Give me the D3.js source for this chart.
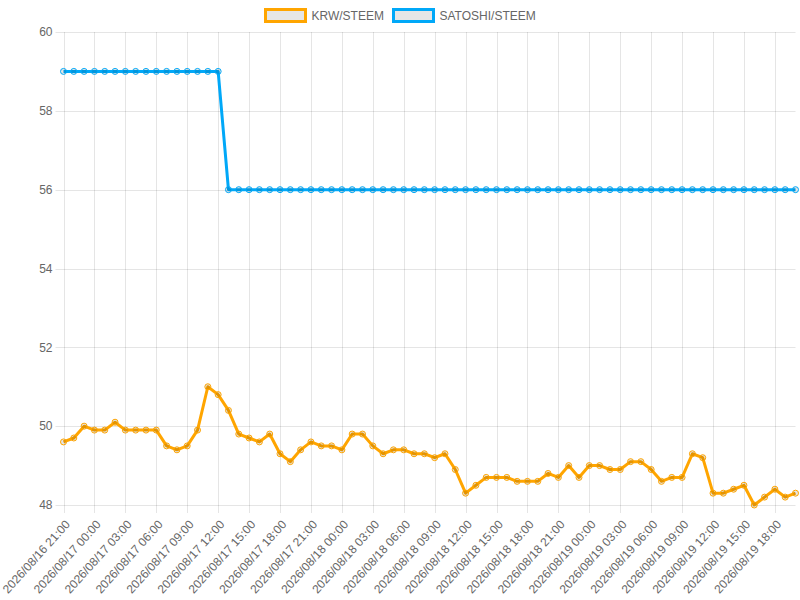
<!DOCTYPE html>
<html>
<head>
<meta charset="utf-8">
<script src="https://cdn.jsdelivr.net/npm/d3@7"></script>
<style>
  body { margin: 0; background: #fff; }
  text { font-family: "Liberation Sans", Arial, sans-serif; }
</style>
</head>
<body>
<svg id="chart"></svg>
<script>
var width = 800;
var height = 600;

// hourly timestamps, 2026/08/16 21:00 .. 2026/08/19 20:00
var times = [
  "2026/08/16 21:00", "2026/08/16 22:00", "2026/08/16 23:00",
  "2026/08/17 00:00", "2026/08/17 01:00", "2026/08/17 02:00", "2026/08/17 03:00", "2026/08/17 04:00", "2026/08/17 05:00",
  "2026/08/17 06:00", "2026/08/17 07:00", "2026/08/17 08:00", "2026/08/17 09:00", "2026/08/17 10:00", "2026/08/17 11:00",
  "2026/08/17 12:00", "2026/08/17 13:00", "2026/08/17 14:00", "2026/08/17 15:00", "2026/08/17 16:00", "2026/08/17 17:00",
  "2026/08/17 18:00", "2026/08/17 19:00", "2026/08/17 20:00", "2026/08/17 21:00", "2026/08/17 22:00", "2026/08/17 23:00",
  "2026/08/18 00:00", "2026/08/18 01:00", "2026/08/18 02:00", "2026/08/18 03:00", "2026/08/18 04:00", "2026/08/18 05:00",
  "2026/08/18 06:00", "2026/08/18 07:00", "2026/08/18 08:00", "2026/08/18 09:00", "2026/08/18 10:00", "2026/08/18 11:00",
  "2026/08/18 12:00", "2026/08/18 13:00", "2026/08/18 14:00", "2026/08/18 15:00", "2026/08/18 16:00", "2026/08/18 17:00",
  "2026/08/18 18:00", "2026/08/18 19:00", "2026/08/18 20:00", "2026/08/18 21:00", "2026/08/18 22:00", "2026/08/18 23:00",
  "2026/08/19 00:00", "2026/08/19 01:00", "2026/08/19 02:00", "2026/08/19 03:00", "2026/08/19 04:00", "2026/08/19 05:00",
  "2026/08/19 06:00", "2026/08/19 07:00", "2026/08/19 08:00", "2026/08/19 09:00", "2026/08/19 10:00", "2026/08/19 11:00",
  "2026/08/19 12:00", "2026/08/19 13:00", "2026/08/19 14:00", "2026/08/19 15:00", "2026/08/19 16:00", "2026/08/19 17:00",
  "2026/08/19 18:00", "2026/08/19 19:00", "2026/08/19 20:00"
];

var krw = [
  49.6, 49.7, 50.0,
  49.9, 49.9, 50.1, 49.9, 49.9, 49.9,
  49.9, 49.5, 49.4, 49.5, 49.9, 51.0,
  50.8, 50.4, 49.8, 49.7, 49.6, 49.8,
  49.3, 49.1, 49.4, 49.6, 49.5, 49.5,
  49.4, 49.8, 49.8, 49.5, 49.3, 49.4,
  49.4, 49.3, 49.3, 49.2, 49.3, 48.9,
  48.3, 48.5, 48.7, 48.7, 48.7, 48.6,
  48.6, 48.6, 48.8, 48.7, 49.0, 48.7,
  49.0, 49.0, 48.9, 48.9, 49.1, 49.1,
  48.9, 48.6, 48.7, 48.7, 49.3, 49.2,
  48.3, 48.3, 48.4, 48.5, 48.0, 48.2,
  48.4, 48.2, 48.3
];

var satoshi = [
  59, 59, 59,
  59, 59, 59, 59, 59, 59,
  59, 59, 59, 59, 59, 59,
  59, 56, 56, 56, 56, 56,
  56, 56, 56, 56, 56, 56,
  56, 56, 56, 56, 56, 56,
  56, 56, 56, 56, 56, 56,
  56, 56, 56, 56, 56, 56,
  56, 56, 56, 56, 56, 56,
  56, 56, 56, 56, 56, 56,
  56, 56, 56, 56, 56, 56,
  56, 56, 56, 56, 56, 56,
  56, 56, 56
];

var seriesNames = ["KRW/STEEM", "SATOSHI/STEEM"];
var seriesColors = ["#ffa500", "#00a8f8"];
var yTicks = [48, 50, 52, 54, 56, 58, 60];

var plotLeft = 63.5, plotRight = 795.5, plotTop = 32, plotBottom = 505;

var svg = d3.select("#chart")
    .attr("width", width)
    .attr("height", height);

var xScale = d3.scalePoint()
    .domain(times)
    .range([plotLeft, plotRight]);

var yScale = d3.scaleLinear()
    .domain([48, 60])
    .range([plotBottom, plotTop]);

var labelTimes = times.filter(function(d, i) { return i % 3 === 0; });

// grid
svg.append("g")
  .selectAll("line")
  .data(labelTimes)
  .enter()
  .append("line")
  .attr("x1", function(d) { return Math.round(xScale(d)) + 0.5; })
  .attr("x2", function(d) { return Math.round(xScale(d)) + 0.5; })
  .attr("y1", plotTop)
  .attr("y2", plotBottom + 8)
  .attr("stroke", "rgba(0,0,0,0.1)");

svg.append("g")
  .selectAll("line")
  .data(yTicks)
  .enter()
  .append("line")
  .attr("x1", plotLeft - 8)
  .attr("x2", plotRight)
  .attr("y1", function(d) { return Math.round(yScale(d)) + 0.5; })
  .attr("y2", function(d) { return Math.round(yScale(d)) + 0.5; })
  .attr("stroke", "rgba(0,0,0,0.1)");

// axis labels
svg.append("g")
  .selectAll("text")
  .data(yTicks)
  .enter()
  .append("text")
  .attr("x", plotLeft - 11)
  .attr("y", function(d) { return yScale(d); })
  .attr("dy", "0.35em")
  .attr("text-anchor", "end")
  .attr("font-size", 12)
  .attr("fill", "#666")
  .text(function(d) { return d; });

svg.append("g")
  .selectAll("text")
  .data(labelTimes)
  .enter()
  .append("text")
  .attr("transform", function(d) {
    return "translate(" + (xScale(d) + 4) + "," + (plotBottom + 17) + ") rotate(-48)";
  })
  .attr("dy", "0.35em")
  .attr("text-anchor", "end")
  .attr("font-size", 12)
  .attr("fill", "#666")
  .text(function(d) { return d; });

// lines
var allSeries = [krw, satoshi];

var line = d3.line()
    .x(function(d, i) { return xScale(times[i]); })
    .y(function(d) { return yScale(d); });

[1, 0].forEach(function(s) {
  var g = svg.append("g");
  g.append("path")
    .datum(allSeries[s])
    .attr("d", line)
    .attr("fill", "none")
    .attr("stroke", seriesColors[s])
    .attr("stroke-width", 3)
    .attr("stroke-linejoin", "round");

  g.selectAll("circle")
    .data(allSeries[s])
    .enter()
    .append("circle")
    .attr("cx", function(d, i) { return xScale(times[i]); })
    .attr("cy", function(d) { return yScale(d); })
    .attr("r", 3)
    .attr("fill", "rgba(0,0,0,0.1)")
    .attr("stroke", seriesColors[s])
    .attr("stroke-width", 1);
});

// legend
var legendX = [265.5, 393.5];
var legend = svg.append("g")
  .selectAll("g")
  .data(seriesNames)
  .enter()
  .append("g")
  .attr("transform", function(d, i) { return "translate(" + legendX[i] + ",9.5)"; });

legend.append("rect")
  .attr("width", 40)
  .attr("height", 12)
  .attr("fill", "#e6e6e6")
  .attr("stroke", function(d, i) { return seriesColors[i]; })
  .attr("stroke-width", 3);

legend.append("text")
  .attr("x", 46)
  .attr("y", 6)
  .attr("dy", "0.35em")
  .attr("font-size", 12)
  .attr("fill", "#666")
  .text(function(d) { return d; });
</script>
</body>
</html>
